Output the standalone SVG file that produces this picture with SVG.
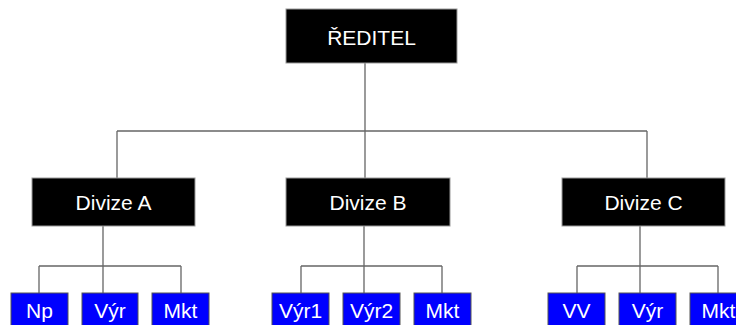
<svg xmlns="http://www.w3.org/2000/svg" width="736" height="325" viewBox="0 0 736 325">
<style>
.top{fill:#000;stroke:#999;stroke-width:1}
.sub{fill:#0000ff;stroke:#555;stroke-width:1}
.t{font-family:"Liberation Sans",Arial,sans-serif;font-size:21px;fill:#fff;text-anchor:middle}
.c{fill:none;stroke:#666;stroke-width:1.3}
</style>
<rect width="736" height="325" fill="#fff"/>
<g id="connectors" class="c">
<path d="M365 63V131M117 131H647M117 131V178M365 131V178M647 131V178"/>
<path d="M103 226V266M39 266H181M39 266V293M103 266V293M181 266V293"/>
<path d="M364 226V266M301 266H442M301 266V293M364 266V293M442 266V293"/>
<path d="M640 226V266M577 266H718M577 266V293M640 266V293M718 266V293"/>
</g>
<g id="reditel"><rect class="top" x="286" y="9" width="171" height="54"/><text class="t" x="371.5" y="45">ŘEDITEL</text></g>
<g id="divizeA"><rect class="top" x="32" y="178" width="163" height="48"/><text class="t" x="113.5" y="210">Divize A</text></g>
<g id="divizeB"><rect class="top" x="286" y="178" width="164" height="48"/><text class="t" x="368" y="210">Divize B</text></g>
<g id="divizeC"><rect class="top" x="562" y="178" width="163" height="48"/><text class="t" x="643.5" y="210">Divize C</text></g>
<g id="a-np"><rect class="sub" x="11" y="293" width="57" height="40"/><text class="t" x="39.5" y="318">Np</text></g>
<g id="a-vyr"><rect class="sub" x="82" y="293" width="56" height="40"/><text class="t" x="110" y="318">Výr</text></g>
<g id="a-mkt"><rect class="sub" x="152" y="293" width="57" height="40"/><text class="t" x="180.5" y="318">Mkt</text></g>
<g id="b-vyr1"><rect class="sub" x="272" y="293" width="57" height="40"/><text class="t" x="300.5" y="318">Výr1</text></g>
<g id="b-vyr2"><rect class="sub" x="343" y="293" width="57" height="40"/><text class="t" x="371.5" y="318">Výr2</text></g>
<g id="b-mkt"><rect class="sub" x="414" y="293" width="57" height="40"/><text class="t" x="442.5" y="318">Mkt</text></g>
<g id="c-vv"><rect class="sub" x="548" y="293" width="57" height="40"/><text class="t" x="576.5" y="318">VV</text></g>
<g id="c-vyr"><rect class="sub" x="619" y="293" width="57" height="40"/><text class="t" x="647.5" y="318">Výr</text></g>
<g id="c-mkt"><rect class="sub" x="690" y="293" width="57" height="40"/><text class="t" x="718.5" y="318">Mkt</text></g>
</svg>
